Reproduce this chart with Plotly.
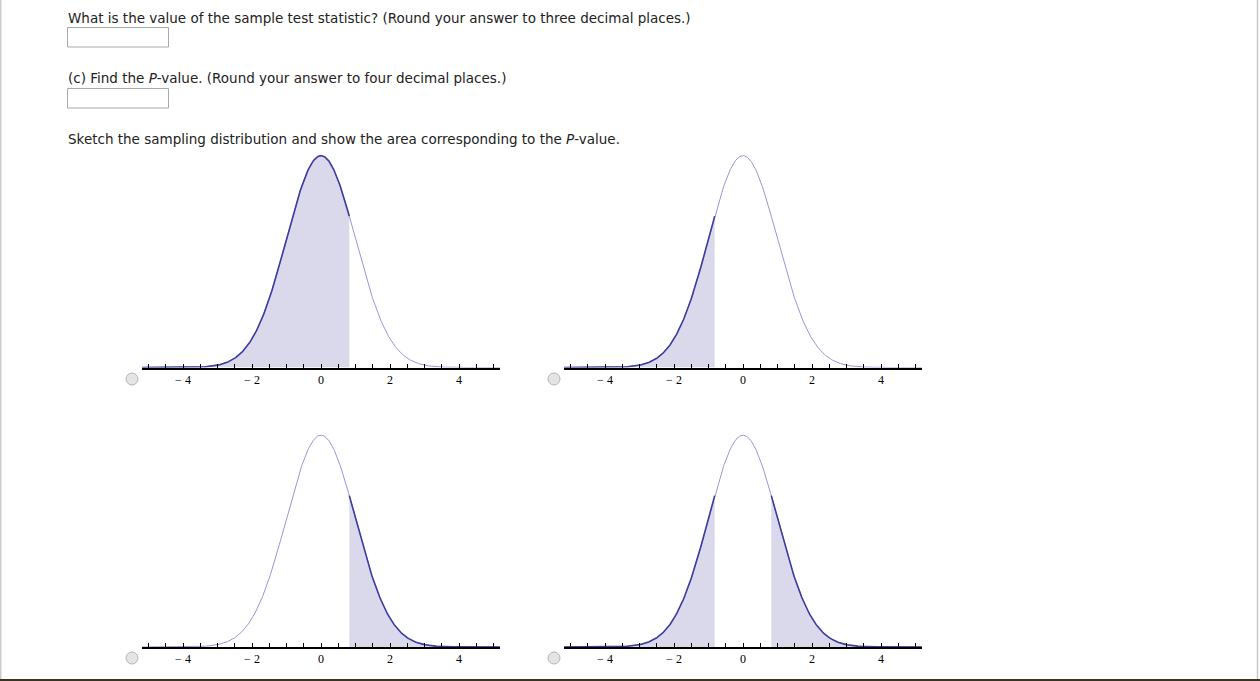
import numpy as np
import plotly.graph_objects as go

W, H = 1260, 681

# ---- data ----
question_texts = [
    "What is the value of the sample test statistic? (Round your answer to three decimal places.)",
    "(c) Find the <i>P</i>-value. (Round your answer to four decimal places.)",
    "Sketch the sampling distribution and show the area corresponding to the <i>P</i>-value.",
]
z_stat = 0.82                      # shading boundary
panel_modes = ["left", "lefttail", "right", "twotail"]   # shaded region of each panel
tick_values = [-4, -2, 0, 2, 4]
tick_labels = ["\u2212 4", "\u2212 2", "0", "2", "4"]
x_min, x_max = -5.19, 5.19
y_top = 0.4096

# ---- layout geometry (pixels) ----
panel_centers_x = [321, 743, 321, 743]
panel_base_y = [367.5, 367.5, 647, 647]
px_per_unit_x = 34.5
px_per_unit_y = 531.0
radio_centers = [(132, 379), (554, 379), (132, 658), (554, 658)]


def px(x):
    return x / W


def py(y):
    return 1 - y / H


def pdf(x):
    return np.exp(-x * x / 2) / np.sqrt(2 * np.pi)


fig = go.Figure()
FILL = "#d9d9eb"
DARK = "#3d3d9e"
LIGHT = "#9a95d8"

xs_all = np.linspace(x_min, x_max, 600)

for i, mode in enumerate(panel_modes):
    n = "" if i == 0 else str(i + 1)
    xa, ya = "x" + n, "y" + n
    if mode == "left":
        segs = [(x_min, z_stat)]
    elif mode == "lefttail":
        segs = [(x_min, -z_stat)]
    elif mode == "right":
        segs = [(z_stat, x_max)]
    else:
        segs = [(x_min, -z_stat), (z_stat, x_max)]
    for a, b in segs:
        xs = np.linspace(a, b, 300)
        fig.add_trace(go.Scatter(x=xs, y=pdf(xs), mode="lines", fill="tozeroy",
                                 fillcolor=FILL, line=dict(width=0, color=FILL),
                                 xaxis=xa, yaxis=ya, hoverinfo="skip", showlegend=False))
    fig.add_trace(go.Scatter(x=xs_all, y=pdf(xs_all), mode="lines",
                             line=dict(width=1, color=LIGHT),
                             xaxis=xa, yaxis=ya, hoverinfo="skip", showlegend=False))
    for a, b in segs:
        xs = np.linspace(a, b, 300)
        fig.add_trace(go.Scatter(x=xs, y=pdf(xs), mode="lines",
                                 line=dict(width=1.6, color=DARK),
                                 xaxis=xa, yaxis=ya, hoverinfo="skip", showlegend=False))

    cx = panel_centers_x[i]
    by = panel_base_y[i]
    x0 = cx + x_min * px_per_unit_x
    x1 = cx + x_max * px_per_unit_x
    ytop_px = by - y_top * px_per_unit_y
    fig.layout["xaxis" + n] = dict(
        domain=[px(x0), px(x1)], range=[x_min, x_max], anchor=ya,
        showline=True, linecolor="black", linewidth=1.5,
        tickmode="array", tickvals=tick_values, ticktext=tick_labels,
        ticks="inside", ticklen=4, tickcolor="black", tickwidth=1,
        tickfont=dict(family="Liberation Serif", size=12, color="black"),
        minor=dict(ticks="inside", ticklen=4, tickcolor="black", tickwidth=1,
                   tickmode="linear", tick0=0, dtick=0.5, showgrid=False),
        showgrid=False, zeroline=False, fixedrange=True,
    )
    fig.layout["yaxis" + n] = dict(
        domain=[py(by), py(ytop_px)], range=[0, y_top], anchor=xa,
        visible=False, showgrid=False, zeroline=False, fixedrange=True,
    )

# ---- text ----
text_y = [18, 78, 139]
for t, y in zip(question_texts, text_y):
    fig.add_annotation(text=t, x=px(66), y=py(y), xref="paper", yref="paper",
                       xanchor="left", yanchor="middle", showarrow=False,
                       font=dict(family="DejaVu Sans", size=13.5, color="#222222"))

shapes = []
# input boxes
for y0 in (27.5, 88.5):
    shapes.append(dict(type="rect", xref="paper", yref="paper",
                       x0=px(67.5), x1=px(168.5), y0=py(y0), y1=py(y0 + 19.5),
                       line=dict(color="#a9a9a9", width=1), fillcolor="white"))
# radio buttons
for (cx, cy) in radio_centers:
    shapes.append(dict(type="circle", xref="paper", yref="paper",
                       x0=px(cx - 6), x1=px(cx + 6), y0=py(cy + 6), y1=py(cy - 6),
                       line=dict(color="#b4b4b4", width=1), fillcolor="#e4e4e4"))
# page borders
shapes.append(dict(type="line", xref="paper", yref="paper", x0=px(0.5), x1=px(0.5),
                   y0=0, y1=1, line=dict(color="#cccccc", width=2)))
shapes.append(dict(type="line", xref="paper", yref="paper", x0=px(1257.5), x1=px(1257.5),
                   y0=0, y1=1, line=dict(color="#c8c8c8", width=1.5)))
shapes.append(dict(type="line", xref="paper", yref="paper", x0=0, x1=1,
                   y0=py(680), y1=py(680), line=dict(color="#3b3222", width=2)))

fig.update_layout(
    width=W, height=H, margin=dict(l=0, r=0, t=0, b=0),
    paper_bgcolor="white", plot_bgcolor="rgba(0,0,0,0)",
    shapes=shapes, showlegend=False,
)

fig.write_html("out.html", config={"displayModeBar": False},
               post_script="document.body.style.margin='0';document.body.style.overflow='hidden';")
